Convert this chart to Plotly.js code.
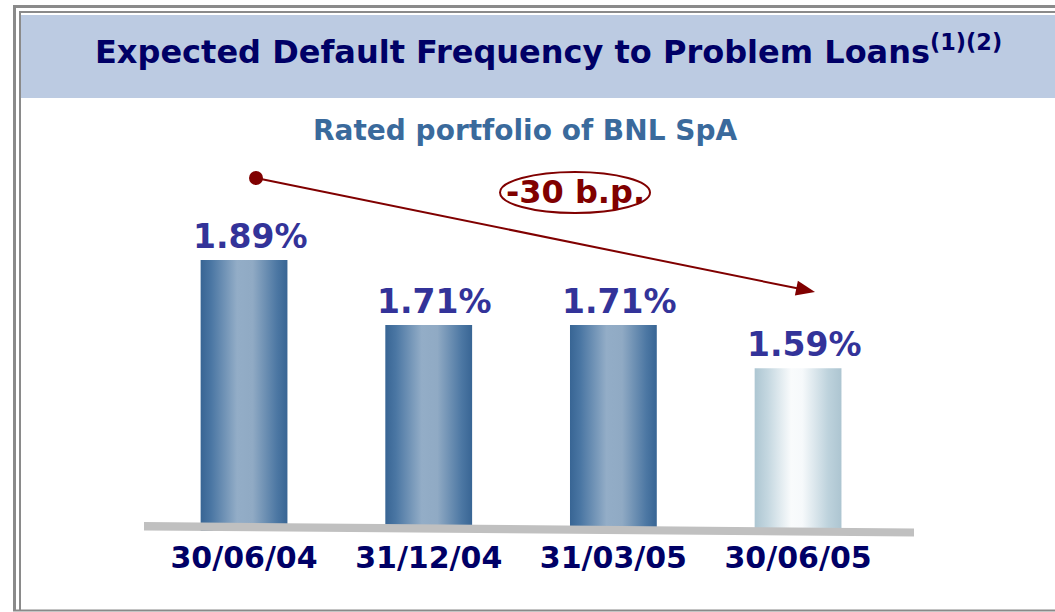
<!DOCTYPE html>
<html>
<head>
<meta charset="utf-8">
<script src="https://cdn.plot.ly/plotly-3.0.1.min.js"></script>
<style>
html,body{margin:0;padding:0;background:#fff;}
#chart{width:1055px;height:612px;}
</style>
</head>
<body>
<div id="chart"></div>
<script>
// ---- data ----
var categories = ["30/06/04", "31/12/04", "31/03/05", "30/06/05"];
var edfValues = [1.89, 1.71, 1.71, 1.59];
var valueLabels = ["1.89%", "1.71%", "1.71%", "1.59%"];
var titleText = "Expected Default Frequency to Problem Loans<sup>(1)(2)</sup>";
var subtitleText = "Rated portfolio of BNL SpA";
var changeText = "-30 b.p.";

// ---- helpers: pixel -> paper ----
var W = 1055, H = 612;
function px(x){ return x / W; }
function py(y){ return 1 - y / H; }

var FONT = "DejaVu Sans, Verdana, sans-serif";
var DARKRED = "#800000";

var trace = {
  type: "bar",
  x: categories,
  y: edfValues,
  width: 0.47,
  marker: {color: ["#5f86ad", "#5f86ad", "#5f86ad", "#d6e4ea"], line: {width: 0}},
  hoverinfo: "none",
  textposition: "none"
};

var annotations = [];
// value labels
for (var i = 0; i < categories.length; i++) {
  annotations.push({
    x: categories[i], y: edfValues[i], xref: "x", yref: "y",
    text: valueLabels[i], showarrow: false,
    yanchor: "bottom", xanchor: "center", yshift: 2, xshift: 6,
    font: {family: FONT, size: 33, color: "#333399", weight: "bold"}
  });
}
// title
annotations.push({
  x: px(548), y: py(50), xref: "paper", yref: "paper",
  text: titleText, showarrow: false, xanchor: "center", yanchor: "middle",
  font: {family: FONT, size: 32, color: "#000066", weight: "bold"}
});
// subtitle
annotations.push({
  x: px(525), y: py(130), xref: "paper", yref: "paper",
  text: subtitleText, showarrow: false, xanchor: "center", yanchor: "middle",
  font: {family: FONT, size: 28, color: "#3a6a9c", weight: "bold"}
});
// change label
annotations.push({
  x: px(575), y: py(192), xref: "paper", yref: "paper",
  text: changeText, showarrow: false, xanchor: "center", yanchor: "middle",
  font: {family: FONT, size: 32, color: DARKRED, weight: "bold"}
});

// arrow geometry (pixels)
var tail = [256, 178], tip = [815, 292];
var dx = tip[0] - tail[0], dy = tip[1] - tail[1];
var len = Math.sqrt(dx * dx + dy * dy);
var ux = dx / len, uy = dy / len, nx = -uy, ny = ux;
var headLen = 19, headHalf = 7.5;
var bx = tip[0] - headLen * ux, by = tip[1] - headLen * uy;

var shapes = [
  // title band
  {type: "rect", xref: "paper", yref: "paper", x0: px(21), x1: px(1060), y0: py(15), y1: py(98),
   fillcolor: "#bccbe2", line: {width: 0}, layer: "below"},
  // outer frame
  {type: "line", xref: "paper", yref: "paper", x0: px(14.5), x1: px(14.5), y0: py(5), y1: py(611),
   line: {color: "#8a8a8a", width: 3}, layer: "above"},
  {type: "line", xref: "paper", yref: "paper", x0: px(13), x1: px(1060), y0: py(6.5), y1: py(6.5),
   line: {color: "#8a8a8a", width: 3}, layer: "above"},
  // inner frame
  {type: "line", xref: "paper", yref: "paper", x0: px(20), x1: px(20), y0: py(11), y1: py(611),
   line: {color: "#8a8a8a", width: 2}, layer: "above"},
  {type: "line", xref: "paper", yref: "paper", x0: px(19), x1: px(1060), y0: py(12), y1: py(12),
   line: {color: "#8a8a8a", width: 2}, layer: "above"},
  // bottom line
  {type: "line", xref: "paper", yref: "paper", x0: px(13), x1: px(1060), y0: py(610.5), y1: py(610.5),
   line: {color: "#8a8a8a", width: 2}, layer: "above"},
  // platform
  {type: "path", xref: "paper", yref: "paper",
   path: "M " + px(144) + " " + py(522) + " L " + px(914) + " " + py(528.5) +
         " L " + px(914) + " " + py(536.5) + " L " + px(144) + " " + py(530.5) + " Z",
   fillcolor: "#c0c0c0", line: {width: 0}, layer: "above"},
  // ellipse
  {type: "circle", xref: "paper", yref: "paper", x0: px(500), x1: px(650), y0: py(172), y1: py(213),
   fillcolor: "rgba(255,255,255,0)", line: {color: DARKRED, width: 2}, layer: "below"},
  // arrow line
  {type: "line", xref: "paper", yref: "paper", x0: px(tail[0]), y0: py(tail[1]), x1: px(bx + 2 * ux), y1: py(by + 2 * uy),
   line: {color: DARKRED, width: 2}, layer: "above"},
  // arrow head
  {type: "path", xref: "paper", yref: "paper",
   path: "M " + px(tip[0]) + " " + py(tip[1]) +
         " L " + px(bx + headHalf * nx) + " " + py(by + headHalf * ny) +
         " L " + px(bx - headHalf * nx) + " " + py(by - headHalf * ny) + " Z",
   fillcolor: DARKRED, line: {width: 0}, layer: "above"},
  // start dot
  {type: "circle", xref: "paper", yref: "paper", x0: px(249), x1: px(263), y0: py(171), y1: py(185),
   fillcolor: DARKRED, line: {width: 0}, layer: "above"}
];

var layout = {
  width: W, height: H,
  margin: {l: 0, r: 0, t: 0, b: 0},
  paper_bgcolor: "#ffffff", plot_bgcolor: "rgba(0,0,0,0)",
  showlegend: false,
  xaxis: {
    domain: [px(151.7), px(890.4)], range: [-0.5, 3.5], type: "category",
    showgrid: false, zeroline: false, showline: false, ticks: "",
    tickfont: {family: FONT, size: 30, color: "#000066", weight: "bold"},
    ticklabelstandoff: 6, fixedrange: true
  },
  yaxis: {
    domain: [py(531), py(100)], range: [1.1398, 2.3324],
    visible: false, showgrid: false, zeroline: false, fixedrange: true
  },
  annotations: annotations,
  shapes: shapes
};

Plotly.newPlot("chart", [trace], layout, {staticPlot: true, displayModeBar: false}).then(function(gd){
  var svg = gd.querySelector("svg.main-svg");
  var ns = "http://www.w3.org/2000/svg";
  var defs = svg.querySelector("defs") || svg.insertBefore(document.createElementNS(ns, "defs"), svg.firstChild);
  function grad(id, stops){
    var g = document.createElementNS(ns, "linearGradient");
    g.setAttribute("id", id);
    g.setAttribute("x1", "0"); g.setAttribute("x2", "1");
    g.setAttribute("y1", "0"); g.setAttribute("y2", "0");
    stops.forEach(function(s){
      var st = document.createElementNS(ns, "stop");
      st.setAttribute("offset", s[0]);
      st.setAttribute("stop-color", s[1]);
      g.appendChild(st);
    });
    defs.appendChild(g);
  }
  grad("gBlue", [["0", "#386594"], ["0.12", "#4a76a3"], ["0.42", "#93adc7"], ["0.6", "#90aac4"], ["0.88", "#4c77a3"], ["1", "#386594"]]);
  grad("gLight", [["0", "#adc6d2"], ["0.15", "#c4d7e0"], ["0.42", "#f9fbfc"], ["0.55", "#f6f9fb"], ["0.85", "#bdd2dc"], ["1", "#adc5d1"]]);
  var paths = gd.querySelectorAll(".barlayer .point path");
  paths.forEach(function(p, i){
    p.style.fill = "url(#" + (i === paths.length - 1 ? "gLight" : "gBlue") + ")";
  });
});
</script>
</body>
</html>
